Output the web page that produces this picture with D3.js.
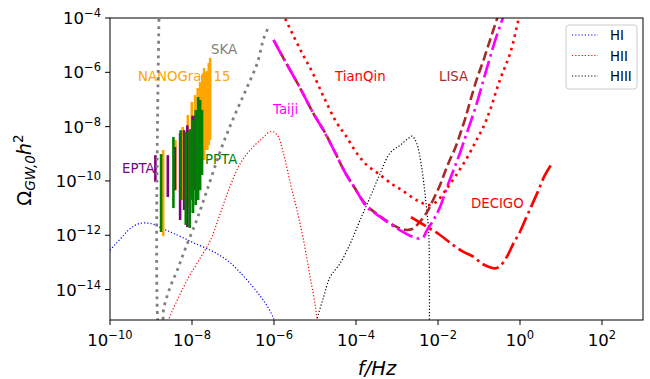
<!DOCTYPE html>
<html>
<head>
<meta charset="utf-8">
<script src="https://cdn.jsdelivr.net/npm/d3@7"></script>
<style>
  body { margin: 0; background: #fff; }
  text { font-family: "DejaVu Sans", sans-serif; }
</style>
</head>
<body>
<svg id="chart" width="650" height="379"></svg>
<script>
// curves as [log10 f, log10 Omega] pairs
const hiCurve = [[-10, -12.55], [-9.9, -12.38], [-9.74, -12.12], [-9.58, -11.85], [-9.42, -11.66], [-9.26, -11.56],
  [-9.09, -11.55], [-8.93, -11.6], [-8.77, -11.72], [-8.6, -11.83], [-8.45, -11.93], [-8.2, -12.1], [-7.96, -12.28],
  [-7.55, -12.55], [-7.31, -12.75], [-7.06, -13.02], [-6.82, -13.38], [-6.58, -13.78], [-6.33, -14.25],
  [-6.17, -14.6], [-6.01, -15.06], [-5.94, -15.4]];
const hiiCurve = [[-8.6, -15.4], [-8.57, -15.12], [-8.36, -14.39], [-8.12, -13.65], [-7.88, -13.04], [-7.55, -12.18],
  [-7.31, -11.19], [-7.07, -10.19], [-6.82, -9.35], [-6.58, -8.86], [-6.33, -8.49], [-6.07, -8.18], [-5.92, -8.31],
  [-5.77, -8.98], [-5.6, -10.09], [-5.44, -11.07], [-5.28, -12.18], [-5.12, -13.53], [-4.99, -14.63], [-4.93, -15.4]];
const hiiiCurve = [[-4.96, -15.4], [-4.95, -15.12], [-4.79, -14.27], [-4.63, -13.53], [-4.39, -13.04], [-4.14, -12.3],
  [-3.9, -11.44], [-3.65, -10.58], [-3.41, -9.72], [-3.17, -8.97], [-2.92, -8.68], [-2.72, -8.43], [-2.63, -8.35],
  [-2.52, -8.62], [-2.4, -9.48], [-2.31, -10.58], [-2.23, -11.81], [-2.21, -13.28], [-2.21, -15.5]];

const skaCurve = [[-8.8, -3.5], [-8.8, -15.6], [-8.72, -15.3], [-8.69, -14.71], [-8.54, -13.94], [-8.35, -13.25],
  [-8.16, -12.48], [-7.9, -11.5], [-7.73, -10.77], [-7.27, -8.74], [-6.99, -7.69], [-6.68, -6.63], [-6.41, -5.67],
  [-6.25, -4.75], [-6.11, -4.26]];
const tianqinCurve = [[-5.8, -3.8], [-5.72, -4.05], [-5.56, -4.55], [-5.32, -5.28], [-5.07, -5.98], [-4.79, -6.9],
  [-4.47, -7.86], [-4.26, -8.31], [-3.98, -8.98], [-3.74, -9.41], [-3.41, -9.78], [-3.09, -10.15], [-2.88, -10.34],
  [-2.6, -10.64], [-2.44, -10.77], [-2.24, -10.89], [-2.05, -10.78], [-1.83, -10.37], [-1.59, -9.86],
  [-1.3, -9.17], [-1.06, -8.49], [-0.89, -8.0], [-0.73, -7.39], [-0.49, -6.28], [-0.24, -5.3], [-0.04, -4.07], [0.0, -3.8]];
const lisaCurve = [[-6.01, -4.81], [-5.77, -5.48], [-5.38, -6.53], [-5.04, -7.51], [-4.79, -8.13], [-4.5, -8.98],
  [-4.27, -9.68], [-4.03, -10.26], [-3.74, -10.9], [-3.41, -11.3], [-3.0, -11.7], [-2.8, -11.8], [-2.63, -11.77],
  [-2.49, -11.59], [-2.27, -11.15], [-2.12, -10.7], [-1.95, -10.15], [-1.83, -9.67], [-1.71, -9.22], [-1.58, -8.79],
  [-1.46, -8.27], [-1.34, -7.72], [-1.22, -7.09], [-1.06, -6.28], [-0.89, -5.55], [-0.73, -4.81], [-0.57, -4.07], [-0.52, -3.85]];
const taijiCurve = [[-6.01, -4.81], [-5.77, -5.48], [-5.38, -6.53], [-5.04, -7.51], [-4.79, -8.15], [-4.5, -8.98],
  [-4.27, -9.68], [-4.03, -10.26], [-3.74, -10.95], [-3.41, -11.32], [-3.0, -11.75], [-2.72, -11.99], [-2.52, -12.11],
  [-2.44, -12.12], [-2.36, -12.08], [-2.27, -11.81], [-2.11, -11.44], [-1.95, -10.96], [-1.79, -10.27],
  [-1.66, -9.75], [-1.5, -9.12], [-1.34, -8.42], [-1.22, -7.9], [-1.06, -7.17], [-0.89, -6.28], [-0.73, -5.44],
  [-0.57, -4.66], [-0.41, -3.96]];
const decigoCurve = [[-2.66, -11.33], [-2.27, -11.69], [-1.95, -11.99], [-1.63, -12.36], [-1.38, -12.61],
  [-1.14, -12.79], [-0.93, -13.04], [-0.77, -13.16], [-0.61, -13.22], [-0.49, -13.14], [-0.32, -12.79],
  [-0.16, -12.3], [0.0, -11.87], [0.16, -11.32], [0.29, -10.89], [0.45, -10.34], [0.61, -9.78], [0.81, -9.29]];

// pulsar timing arrays: frequency bins (Hz) and log10 Omega ranges
const ngFreq = [1.98e-9, 3.95e-9, 5.93e-9, 7.91e-9, 9.88e-9, 1.19e-8, 1.38e-8, 1.58e-8, 1.78e-8, 1.98e-8, 2.17e-8, 2.37e-8, 2.57e-8, 2.77e-8];
const ngHigh = [-8.86, -8.49, -8.01, -7.57, -7.09, -6.84, -6.58, -6.36, -6.1, -5.84, -5.99, -5.95, -5.66, -5.47];
const ngLow = [-12.03, -10.34, -10.7, -10.89, -10.52, -10.34, -9.97, -9.6, -9.23, -9.23, -8.86, -8.86, -8.68, -8.49];
const eptaFreq = [1.28e-9, 2.57e-9, 3.85e-9, 5.13e-9, 6.42e-9, 7.7e-9, 8.98e-9, 1.03e-8, 1.15e-8];
const eptaHigh = [-9.05, -9.05, -8.75, -8.24, -8.13, -7.95, -8.1, -7.6, -7.6];
const eptaLow = [-10.03, -10.59, -10.34, -11.44, -11.07, -11.7, -11.18, -10.7, -10.34];
const pptaFreq = [1.76e-9, 3.52e-9, 5.28e-9, 7.04e-9, 8.8e-9, 1.06e-8, 1.23e-8, 1.41e-8, 1.58e-8, 1.76e-8];
const pptaHigh = [-9.01, -8.38, -8.13, -8.2, -8.13, -7.76, -7.39, -6.91, -7.02, -7.39];
const pptaLow = [-11.88, -11.0, -10.7, -11.62, -11.73, -11.18, -10.89, -10.7, -10.34, -9.78];

const xTicks = [-10, -8, -6, -4, -2, 0, 2];
const yTicks = [-4, -6, -8, -10, -12, -14];

const legendNames = ['HI', 'HII', 'HIII'];
const legendColors = ['blue', 'red', 'black'];

const svg = d3.select('#chart');
const plotLeft = 110, plotRight = 643, plotTop = 18, plotBottom = 320;

const x = d3.scaleLog().domain([1e-10, 1e3]).range([plotLeft, plotRight]);
const y = d3.scaleLog().domain([Math.pow(10, -15.12), 1e-4]).range([plotBottom, plotTop]);

svg.append('defs').append('clipPath').attr('id', 'plot')
  .append('rect').attr('x', plotLeft).attr('y', plotTop)
  .attr('width', plotRight - plotLeft).attr('height', plotBottom - plotTop);

const plot = svg.append('g').attr('clip-path', 'url(#plot)');

const line = d3.line()
  .x(d => x(Math.pow(10, d[0])))
  .y(d => y(Math.pow(10, d[1])))
  .curve(d3.curveCatmullRom.alpha(0.5));

// text labels go under the marks (the bars cover part of NANOGrav)
const labels = [
  { t: 'SKA', x: 211, y: 54, c: 'gray' },
  { t: 'NANOGrav 15', x: 138, y: 81, c: 'orange' },
  { t: 'Taiji', x: 273, y: 114, c: 'magenta' },
  { t: 'TianQin', x: 335, y: 81, c: 'red' },
  { t: 'LISA', x: 439, y: 81, c: 'brown' },
  { t: 'DECIGO', x: 471, y: 208, c: 'red' },
  { t: 'EPTA', x: 122, y: 173, c: 'purple' },
  { t: 'PPTA', x: 205, y: 164, c: 'green' }
];
plot.selectAll('text.lab').data(labels).enter().append('text')
  .attr('class', 'lab')
  .attr('x', d => d.x).attr('y', d => d.y)
  .attr('fill', d => d.c)
  .attr('font-size', 13.3)
  .text(d => d.t);

function drawCurve(data, color, width, dash) {
  plot.append('path')
    .datum(data)
    .attr('d', line)
    .attr('fill', 'none')
    .attr('stroke', color)
    .attr('stroke-width', width)
    .attr('stroke-dasharray', dash);
}

drawCurve(hiCurve, 'blue', 1.2, '1.2,2');
drawCurve(hiiCurve, 'red', 1.2, '1.2,2');
drawCurve(hiiiCurve, 'black', 1.2, '1.2,2');

// PTA bars
function drawBars(freq, lo, hi, color) {
  plot.append('g').selectAll('line').data(freq).enter().append('line')
    .attr('x1', d => x(d)).attr('x2', d => x(d))
    .attr('y1', (d, i) => y(Math.pow(10, hi[i])))
    .attr('y2', (d, i) => y(Math.pow(10, lo[i])))
    .attr('stroke', color)
    .attr('stroke-width', 2.6);
}
drawBars(ngFreq, ngLow, ngHigh, 'orange');
drawBars(eptaFreq, eptaLow, eptaHigh, 'purple');
drawBars(pptaFreq, pptaLow, pptaHigh, 'green');

drawCurve(skaCurve, 'gray', 2.8, '2.8,4.5');
drawCurve(lisaCurve, 'brown', 2.6, '9.6,4.2');
drawCurve(taijiCurve, 'magenta', 2.7, '17.3,4.3,2.7,4.3');
drawCurve(tianqinCurve, 'red', 2.6, '2.6,4.3');
drawCurve(decigoCurve, 'red', 2.7, '17.3,4.3,2.7,4.3');

// frame
svg.append('rect')
  .attr('x', plotLeft).attr('y', plotTop).attr('width', plotRight - plotLeft).attr('height', plotBottom - plotTop)
  .attr('fill', 'none').attr('stroke', 'black').attr('stroke-width', 1);

// x axis ticks and labels
const xt = svg.append('g');
xTicks.forEach(e => {
  const px = x(Math.pow(10, e));
  xt.append('line').attr('x1', px).attr('x2', px).attr('y1', plotBottom).attr('y2', plotBottom + 5)
    .attr('stroke', 'black').attr('stroke-width', 1);
  const t = xt.append('text').attr('x', px).attr('y', plotBottom + 26).attr('text-anchor', 'middle')
    .attr('font-size', 16.5);
  t.append('tspan').text('10');
  t.append('tspan').attr('dy', -7).attr('font-size', 11.5).text(e < 0 ? '\u2212' + (-e) : String(e));
});

const yt = svg.append('g');
yTicks.forEach(e => {
  const py = y(Math.pow(10, e));
  yt.append('line').attr('x1', plotLeft - 5).attr('x2', plotLeft).attr('y1', py).attr('y2', py)
    .attr('stroke', 'black').attr('stroke-width', 1);
  const t = yt.append('text').attr('x', plotLeft - 9).attr('y', py + 6).attr('text-anchor', 'end')
    .attr('font-size', 16.5);
  t.append('tspan').text('10');
  t.append('tspan').attr('dy', -7).attr('font-size', 11.5).text('\u2212' + (-e));
});

// axis titles
svg.append('text').attr('x', 377).attr('y', 375).attr('text-anchor', 'middle')
  .attr('font-size', 19.5).attr('font-style', 'italic').text('f/Hz');

const yl = svg.append('text').attr('transform', 'translate(31,170) rotate(-90)')
  .attr('text-anchor', 'middle').attr('font-size', 19.5);
yl.append('tspan').text('\u03a9');
yl.append('tspan').attr('dy', 4).attr('font-size', 13.5).attr('font-style', 'italic').text('GW,0');
yl.append('tspan').attr('dy', -4).attr('font-style', 'italic').text('h');
yl.append('tspan').attr('dy', -8).attr('font-size', 13.5).text('2');

// legend
const lg = svg.append('g');
lg.append('rect').attr('x', 566).attr('y', 25).attr('width', 71).attr('height', 64).attr('rx', 3)
  .attr('fill', 'white').attr('fill-opacity', 0.8).attr('stroke', '#cccccc').attr('stroke-width', 1);
legendNames.forEach((n, i) => {
  const ly = 35 + i * 20.5;
  lg.append('line').attr('x1', 572).attr('x2', 598).attr('y1', ly).attr('y2', ly)
    .attr('stroke', legendColors[i]).attr('stroke-width', 1.2).attr('stroke-dasharray', '1.2,2');
  lg.append('text').attr('x', 610).attr('y', ly + 5).attr('font-size', 13.3).text(n);
});
</script>
</body>
</html>
